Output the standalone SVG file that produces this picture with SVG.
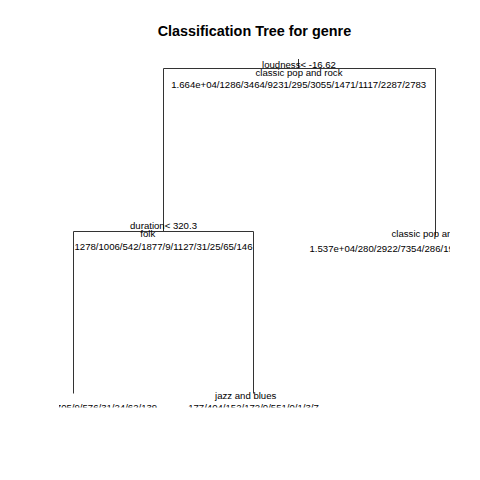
<svg xmlns="http://www.w3.org/2000/svg" width="480" height="480" viewBox="0 0 480 480">
<style>
text{font-family:"Liberation Sans",Arial,sans-serif;font-size:9.6px;fill:#000}
.m{text-anchor:middle}
.title{font-size:14.4px;font-weight:bold;text-anchor:middle}
.c line{stroke:#333;stroke-width:1;fill:none}
</style>
<defs>
<clipPath id="plot"><rect x="59" y="59" width="391" height="348.5"/></clipPath>
</defs>
<rect width="480" height="480" fill="#fff"/>
<text class="title" x="254.4" y="36">Classification Tree for genre</text>
<g clip-path="url(#plot)">
<g id="connectors" class="c">
<line x1="298.5" y1="59" x2="298.5" y2="68.5"/>
<line x1="163.5" y1="68.5" x2="435.5" y2="68.5"/>
<line x1="163.5" y1="68.5" x2="163.5" y2="231.5"/>
<line x1="435.5" y1="68.5" x2="435.5" y2="235.5"/>
<line x1="73.5" y1="231.5" x2="253.5" y2="231.5"/>
<line x1="73.5" y1="231.5" x2="73.5" y2="393.5"/>
<line x1="253.5" y1="231.5" x2="253.5" y2="393.5"/>
</g>
<g id="node-root">
<text class="m" x="299" y="67.5">loudness&lt; -16.62</text>
<text class="m" x="299" y="75.7">classic pop and rock</text>
<text class="m" x="298.7" y="88.3">1.664e+04/1286/3464/9231/295/3055/1471/1117/2287/2783</text>
</g>
<g id="node-duration">
<text class="m" x="163.5" y="229">duration&lt; 320.3</text>
<text x="140.3" y="237.3">folk</text>
<text class="m" x="163.5" y="250">1278/1006/542/1877/9/1127/31/25/65/146</text>
</g>
<g id="node-right">
<text class="m" x="435" y="237.3">classic pop and rock</text>
<text class="m" x="435" y="251.5">1.537e+04/280/2922/7354/286/1928/1440/1092/2222/2637</text>
</g>
<g id="leaf-left">
<text class="m" x="73.5" y="411.3">1101/602/390/1705/9/576/31/24/62/139</text>
</g>
<g id="leaf-jazz">
<text x="215" y="398.6">jazz and blues</text>
<text class="m" x="253.5" y="411.3">177/404/152/172/0/551/0/1/3/7</text>
</g>
</g>
</svg>
